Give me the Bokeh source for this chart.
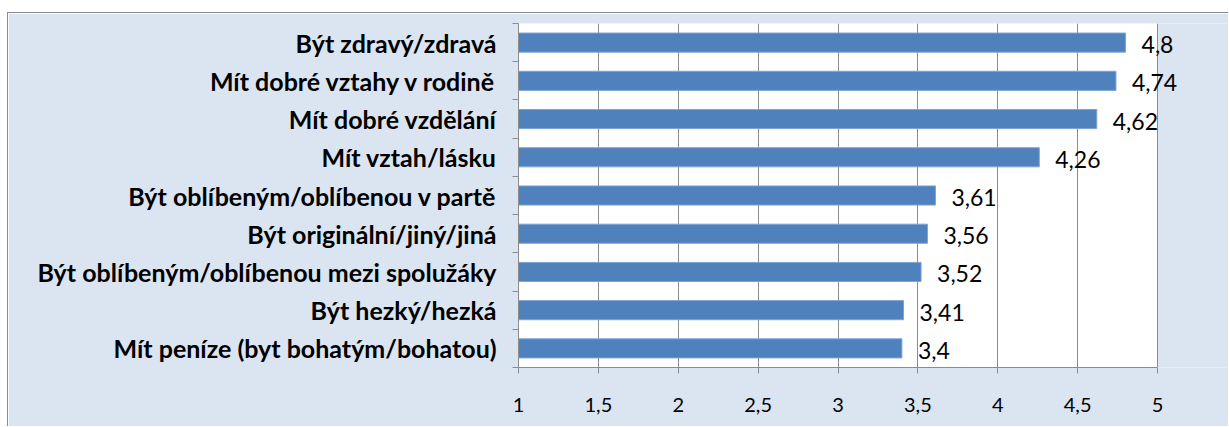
from bokeh.plotting import figure
from bokeh.models import FixedTicker, ColumnDataSource, LabelSet, BoxAnnotation
from bokeh.core.properties import value
from bokeh.embed import file_html
from bokeh.resources import INLINE

categories = [
    "Být zdravý/zdravá",
    "Mít dobré vztahy v rodině",
    "Mít dobré vzdělání",
    "Mít vztah/lásku",
    "Být oblíbeným/oblíbenou v partě",
    "Být originální/jiný/jiná",
    "Být oblíbeným/oblíbenou mezi spolužáky",
    "Být hezký/hezká",
    "Mít peníze (byt bohatým/bohatou)",
]
values = [4.8, 4.74, 4.62, 4.26, 3.61, 3.56, 3.52, 3.41, 3.4]
value_labels = ["4,8", "4,74", "4,62", "4,26", "3,61", "3,56", "3,52", "3,41", "3,4"]
x_ticks = [1, 1.5, 2, 2.5, 3, 3.5, 4, 4.5, 5]
x_tick_labels = ["1", "1,5", "2", "2,5", "3", "3,5", "4", "4,5", "5"]

n = len(categories)
ypos = [n - i - 0.5 for i in range(n)]
src = ColumnDataSource(dict(y=ypos, v=values, lbl=value_labels))

FONT = "Lato"
GRID = "#8c8c8c"
BG = "#dbe5f1"

W, H = 1221, 414
LEFT, TOP, BOTTOM = 510, 10, 60
AXIS_PX = 639  # pixels from x=1 to x=5
x0, x1 = x_ticks[0], x_ticks[-1]
x_end = x0 + (W - LEFT) * (x1 - x0) / AXIS_PX

p = figure(width=W, height=H, x_range=(x0, x_end), y_range=(0, n),
           output_backend="svg", toolbar_location=None,
           min_border_left=LEFT, min_border_right=0,
           min_border_top=TOP, min_border_bottom=BOTTOM)
p.margin = (12, 0, 0, 7)
p.styles = {"border-top": "1px solid #8c8c8c", "border-left": "1px solid #8c8c8c"}

p.background_fill_color = BG
p.border_fill_color = BG
p.outline_line_color = None

plot_area = BoxAnnotation(left=x0, right=x1, bottom=0, top=n,
                          fill_color="white", fill_alpha=1.0,
                          line_color=None, level="image")
p.add_layout(plot_area)

p.hbar(y="y", left=x0, right="v", height=0.5, source=src,
       fill_color="#4f81bd", line_color="#7ea3d3", line_width=1)
labels = LabelSet(x="v", y="y", text="lbl", x_offset=16, y_offset=-2,
                  text_baseline="middle", text_align="left",
                  text_font=value(FONT), text_font_size="23px",
                  text_color="black", source=src)
p.add_layout(labels)

# x axis
xt = FixedTicker(ticks=x_ticks)
p.xaxis.ticker = xt
p.xaxis.bounds = (x0, x1)
p.xaxis.major_label_overrides = {t: l for t, l in zip(x_ticks, x_tick_labels)}
p.xaxis.major_label_text_font = FONT
p.xaxis.major_label_text_font_size = "20px"
p.xaxis.major_label_text_color = "black"
p.xaxis.major_label_standoff = 24
p.xaxis.major_tick_out = 6
p.xaxis.major_tick_in = 0
p.xaxis.minor_tick_out = 0
p.xaxis.minor_tick_in = 0
p.xaxis.axis_line_color = GRID
p.xaxis.major_tick_line_color = GRID
p.xgrid.ticker = xt
p.xgrid.grid_line_color = GRID

# y axis
yt = FixedTicker(ticks=ypos, minor_ticks=list(range(0, n + 1)))
p.yaxis.ticker = yt
p.yaxis.major_label_overrides = {t: c for t, c in zip(ypos, categories)}
p.yaxis.major_label_text_font = FONT
p.yaxis.major_label_text_font_style = "bold"
p.yaxis.major_label_text_font_size = "25px"
p.yaxis.major_label_text_color = "black"
p.yaxis.major_label_standoff = 16
p.yaxis.major_tick_out = 0
p.yaxis.major_tick_in = 0
p.yaxis.minor_tick_out = 6
p.yaxis.minor_tick_in = 0
p.yaxis.axis_line_color = GRID
p.yaxis.minor_tick_line_color = GRID
p.ygrid.grid_line_color = None

open("out.html", "w").write(file_html(p, INLINE))
